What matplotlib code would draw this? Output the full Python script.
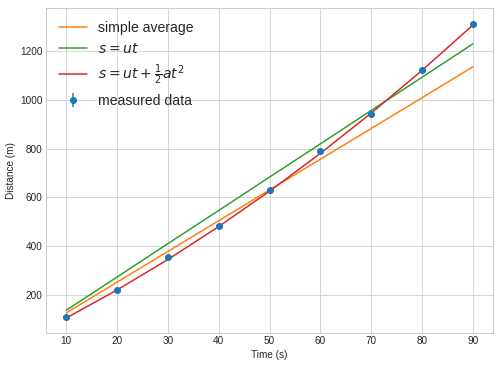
import numpy as np
import matplotlib
matplotlib.use('Agg')
import matplotlib.pyplot as plt

# tempos e distancias medidas
tempo = [10, 20, 30, 40, 50, 60, 70, 80, 90]
distancia = [109, 219, 356, 481, 628, 791, 943, 1122, 1311]
erro = [5, 5, 5, 5, 5, 5, 5, 5, 5]

# modelos
media_simples = [126, 252, 378, 504, 630, 756, 882, 1008, 1135]
s_ut = [137, 273, 410, 546, 683, 819, 956, 1092, 1229]
s_ut_at2 = [105, 220, 345, 480, 625, 780, 945, 1120, 1306]

plt.style.use('seaborn-v0_8-whitegrid')

fig = plt.figure(figsize=(499 / 72, 366 / 72), dpi=72)
ax = fig.add_axes([46 / 499, 33 / 366, 447 / 499, 325 / 366])

ax.plot(tempo, media_simples, color='C1', label='simple average')
ax.plot(tempo, s_ut, color='C2', label='$s = ut$')
ax.plot(tempo, s_ut_at2, color='C3', label=r'$s = ut + \frac{1}{2}at^2$')
ax.errorbar(tempo, distancia, yerr=erro, fmt='o', color='C0', label='measured data')

ax.set_xlabel('Time (s)')
ax.set_ylabel('Distance (m)')
ax.legend(fontsize=14, loc='upper left')

fig.savefig('out.png', dpi=72)
